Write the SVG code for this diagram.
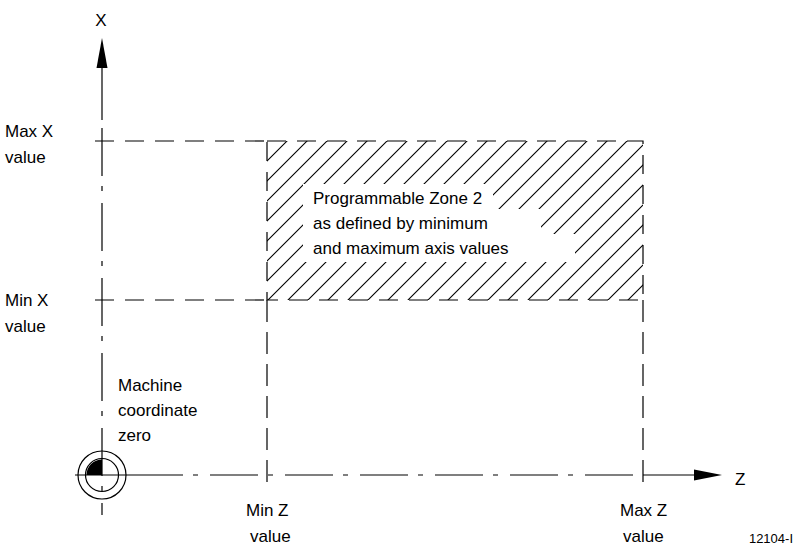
<svg xmlns="http://www.w3.org/2000/svg" width="794" height="548" viewBox="0 0 794 548">
<style>
text{font-family:"Liberation Sans",Arial,sans-serif;font-size:17px;fill:#000}
.ln{stroke:#000;stroke-width:1.2;fill:none}
.dash{stroke-dasharray:19 11}
.ldash{stroke-dasharray:22 10}
.dd{stroke-dasharray:48 10 5 12}
.small{font-size:13px}
</style>
<defs>
<pattern id="hatch" patternUnits="userSpaceOnUse" width="20" height="20" x="267" y="141">
<path d="M0,20 L20,0 M-5,5 L5,-5 M15,25 L25,15" stroke="#000" stroke-width="1.1"/>
</pattern>
<mask id="txtmask" maskUnits="userSpaceOnUse" x="0" y="0" width="794" height="548">
<rect x="0" y="0" width="794" height="548" fill="#fff"/>
<rect x="303" y="184" width="190" height="26" fill="#000"/>
<rect x="303" y="209" width="238" height="26" fill="#000"/>
<rect x="303" y="234" width="272" height="28" fill="#000"/>
</mask>
</defs>
<g id="zone">
<rect x="267" y="141" width="376" height="159" fill="url(#hatch)" mask="url(#txtmask)"/>
<rect x="267" y="141" width="376" height="159" class="ln dash"/>
</g>
<g id="connectors">
<polygon points="102,38 96.5,68 107.5,68" fill="#000"/>
<line x1="102" y1="68" x2="102" y2="120" class="ln"/>
<line x1="102" y1="128" x2="102" y2="515" class="ln dd"/>
<line x1="95" y1="141" x2="267" y2="141" class="ln dash"/>
<line x1="95" y1="300" x2="267" y2="300" class="ln dash"/>
<line x1="267" y1="300" x2="267" y2="490" class="ln ldash"/>
<line x1="643" y1="300" x2="643" y2="490" class="ln ldash"/>
<line x1="75" y1="475" x2="135" y2="475" class="ln"/>
<line x1="135" y1="475" x2="645" y2="475" class="ln dd"/>
<line x1="645" y1="475" x2="694" y2="475" class="ln"/>
<polygon points="722,475 694,469.5 694,480.5" fill="#000"/>
</g>
<g id="origin">
<circle cx="102" cy="475" r="24" class="ln"/>
<circle cx="102" cy="475" r="16.5" class="ln"/>
<path d="M102,475 L86.5,475 A15.5,15.5 0 0 1 102,459.5 Z" fill="#000"/>
</g>
<g id="labels">
<text x="101" y="26" text-anchor="middle">X</text>
<text x="5" y="137">Max X</text>
<text x="5" y="163">value</text>
<text x="5" y="306">Min X</text>
<text x="5" y="332">value</text>
<text x="118" y="391">Machine</text>
<text x="118" y="416">coordinate</text>
<text x="118" y="441">zero</text>
<text x="735" y="485">Z</text>
<text x="246" y="516">Min Z</text>
<text x="250" y="542">value</text>
<text x="620" y="516">Max Z</text>
<text x="623" y="542">value</text>
<text x="793" y="543" text-anchor="end" class="small">12104-I</text>
<text x="313" y="204">Programmable Zone 2</text>
<text x="313" y="229">as defined by minimum</text>
<text x="313" y="254">and maximum axis values</text>
</g>
</svg>
